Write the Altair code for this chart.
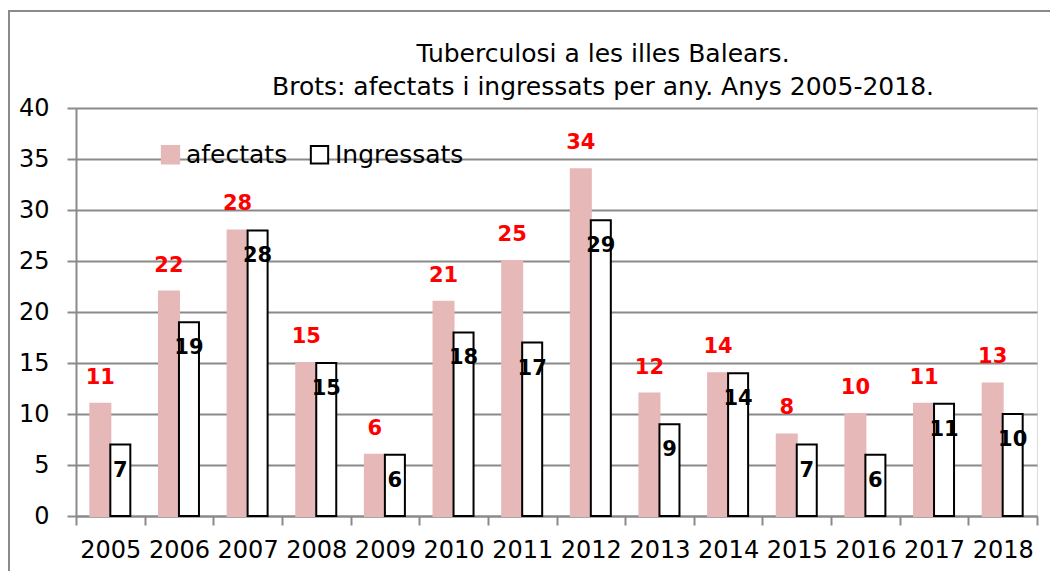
import altair as alt
import pandas as pd

years = ["2005", "2006", "2007", "2008", "2009", "2010", "2011", "2012",
         "2013", "2014", "2015", "2016", "2017", "2018"]
afectats = [11, 22, 28, 15, 6, 21, 25, 34, 12, 14, 8, 10, 11, 13]
ingressats = [7, 19, 28, 15, 6, 18, 17, 29, 9, 14, 7, 6, 11, 10]
series = ["afectats", "Ingressats"]
title_lines = ["Tuberculosi a les illes Balears.",
               "Brots: afectats i ingressats per any. Anys 2005-2018."]
y_ticks = [0, 5, 10, 15, 20, 25, 30, 35, 40]

rows = []
for y, a, i in zip(years, afectats, ingressats):
    rows.append({"year": y, "serie": series[0], "value": a})
    rows.append({"year": y, "serie": series[1], "value": i})
df = pd.DataFrame(rows)

FONT = "DejaVu Sans"
GRAY = "#8a8a8a"
PINK = "#e6b8b7"

x_enc = alt.X("year:N", sort=years, title=None,
              scale=alt.Scale(paddingInner=0, paddingOuter=0),
              axis=alt.Axis(labelAngle=0, labelFontSize=24, labelFont=FONT,
                            labelColor="black", labelPadding=13,
                            tickBand="extent", tickSize=9, tickColor=GRAY,
                            tickWidth=2, domainColor=GRAY, domainWidth=2,
                            grid=False))
xoff = alt.XOffset("serie:N", sort=series,
                   scale=alt.Scale(paddingOuter=0.716, paddingInner=0))
y_enc = alt.Y("value:Q", title=None,
              scale=alt.Scale(domain=[0, 40], nice=False),
              axis=alt.Axis(values=y_ticks, labelFontSize=24, labelFont=FONT,
                            labelColor="black", labelPadding=18,
                            tickSize=9, tickColor=GRAY, tickWidth=2,
                            domainColor=GRAY, domainWidth=2,
                            grid=True, gridColor=GRAY, gridWidth=2))

one = alt.Data(values=[{}])

border = alt.Chart(one).mark_rect(fill=None, stroke=GRAY, strokeWidth=2).encode(
    x=alt.value(-67), x2=alt.value(1100), y=alt.value(-97), y2=alt.value(700))

t1 = alt.Chart(one).mark_text(font=FONT, fontSize=25, align="center",
                              baseline="alphabetic", color="black").encode(
    x=alt.value(527), y=alt.value(-46), text=alt.value(title_lines[0]))
t2 = alt.Chart(one).mark_text(font=FONT, fontSize=25, align="center",
                              baseline="alphabetic", color="black").encode(
    x=alt.value(527), y=alt.value(-13), text=alt.value(title_lines[1]))

leg = alt.Legend(title=None, orient="none", legendX=82, legendY=34,
                 direction="horizontal", symbolType="square", symbolSize=300,
                 symbolStrokeWidth=2, labelFontSize=25, labelFont=FONT,
                 labelColor="black", labelOffset=3, columnPadding=18)

bars = alt.Chart(df).mark_bar(strokeWidth=2).encode(
    x=x_enc, xOffset=xoff, y=y_enc,
    fill=alt.Fill("serie:N", sort=series,
                  scale=alt.Scale(domain=series, range=[PINK, "#ffffff"]),
                  legend=leg),
    stroke=alt.Stroke("serie:N", sort=series,
                      scale=alt.Scale(domain=series, range=[PINK, "#000000"]),
                      legend=leg),
)

lab_a = alt.Chart(df).transform_filter(alt.datum.serie == series[0]).mark_text(
    font=FONT, fontSize=21, fontWeight="bold", color="#ff0000",
    baseline="middle", dy=-26).encode(
    x=alt.X("year:N", sort=years), xOffset=xoff, y="value:Q", text="value:Q")
lab_i = alt.Chart(df).transform_filter(alt.datum.serie == series[1]).mark_text(
    font=FONT, fontSize=21, fontWeight="bold", color="#000000",
    baseline="middle", dy=26).encode(
    x=alt.X("year:N", sort=years), xOffset=xoff, y="value:Q", text="value:Q")

chart = alt.layer(border, bars, lab_a, lab_i, t1, t2).properties(
    width=961, height=408,
    autosize=alt.AutoSizeParams(type="none"),
    padding={"left": 68, "top": 100, "right": 13, "bottom": 55},
).configure_view(stroke=None).configure(background="white")

chart.save("out.html", embed_options={"renderer": "svg", "actions": False})
